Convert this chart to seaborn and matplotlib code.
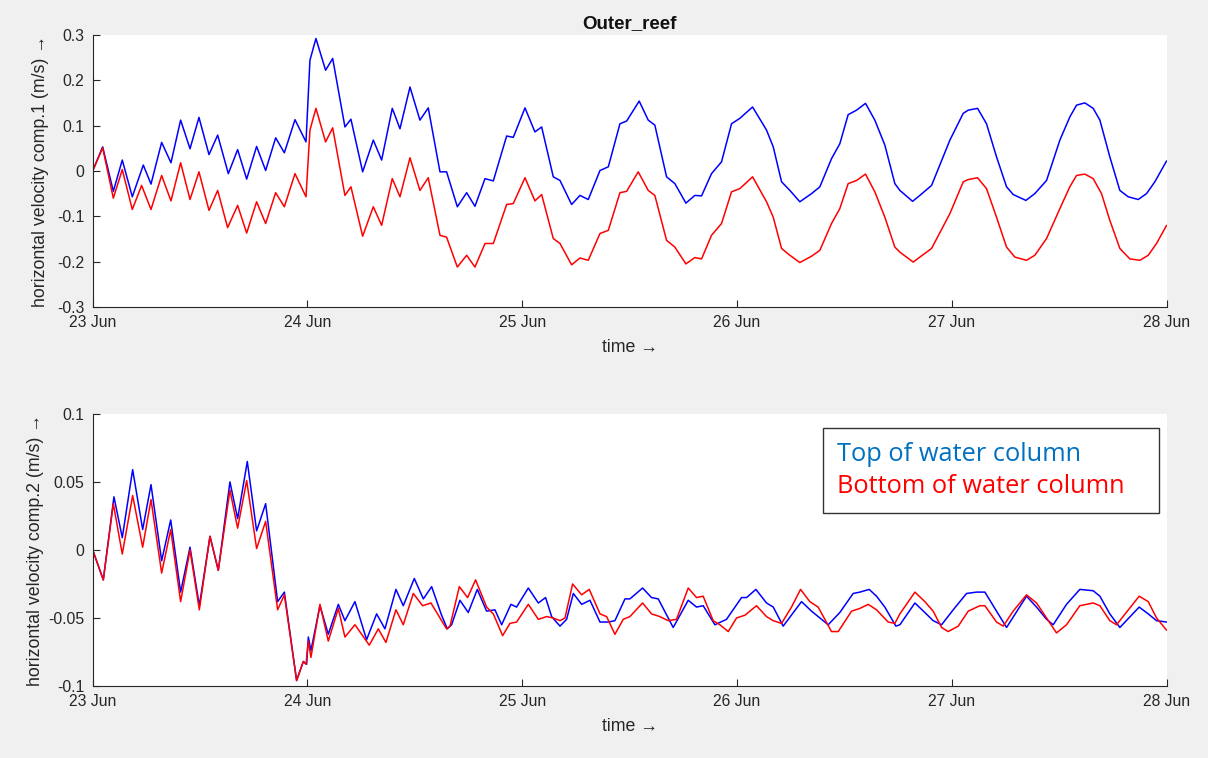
import numpy as np
import pandas as pd
import matplotlib
matplotlib.use("Agg")
import matplotlib.pyplot as plt
import seaborn as sns

# (hours since 23 Jun 00:00, velocity m/s)
comp1_top = [
    (0, 0), (1.12, 0.053), (2.31, -0.045), (3.31, 0.024), (4.43, -0.057), (5.66, 0.013),
    (6.52, -0.029), (7.71, 0.063), (8.75, 0.018), (9.83, 0.112), (10.88, 0.049), (11.88, 0.118),
    (13.00, 0.036), (13.97, 0.079), (15.16, -0.006), (16.20, 0.047), (17.21, -0.018), (18.32, 0.054),
    (19.33, 0.001), (20.45, 0.073), (21.42, 0.040), (22.61, 0.113), (23.84, 0.064), (24.28, 0.244),
    (24.95, 0.292), (26.03, 0.222), (26.82, 0.248), (28.19, 0.097), (28.86, 0.114), (30.17, -0.002),
    (31.36, 0.068), (32.29, 0.024), (33.48, 0.138), (34.34, 0.093), (35.46, 0.185), (36.57, 0.112),
    (37.50, 0.139), (38.81, -0.002), (39.55, -0.002), (40.75, -0.079), (41.79, -0.048), (42.72, -0.078),
    (43.84, -0.017), (44.77, -0.022), (46.26, 0.077), (47.00, 0.074), (48.31, 0.139), (49.42, 0.086),
    (50.17, 0.097), (51.47, -0.013), (52.22, -0.021), (53.52, -0.074), (54.45, -0.054), (55.38, -0.063),
    (56.69, 0.001), (57.62, 0.009), (58.92, 0.104), (59.67, 0.110), (61.07, 0.154), (62.08, 0.112),
    (62.82, 0.101), (64.13, -0.013), (65.06, -0.028), (66.29, -0.071), (67.29, -0.054), (68.04, -0.055),
    (69.15, -0.006), (70.27, 0.020), (71.39, 0.104), (72.32, 0.116), (73.74, 0.141), (75.30, 0.090),
    (76.05, 0.053), (76.98, -0.024), (77.91, -0.043), (79.02, -0.068), (80.33, -0.050), (81.26, -0.035),
    (82.56, 0.027), (83.49, 0.060), (84.42, 0.124), (85.36, 0.134), (86.36, 0.149), (87.40, 0.112),
    (88.52, 0.057), (89.64, -0.028), (90.20, -0.043), (91.62, -0.067), (92.43, -0.054), (93.74, -0.032),
    (95.79, 0.068), (97.28, 0.127), (97.84, 0.134), (98.88, 0.138), (99.88, 0.104), (101.00, 0.031),
    (102.12, -0.035), (102.86, -0.052), (104.28, -0.065), (105.28, -0.050), (106.59, -0.021), (108.08, 0.068),
    (109.19, 0.119), (109.94, 0.145), (110.87, 0.150), (111.80, 0.138), (112.55, 0.112), (113.66, 0.031),
    (114.78, -0.043), (115.71, -0.057), (116.83, -0.063), (117.76, -0.050), (118.69, -0.024), (120.00, 0.022),
]
comp1_bottom = [
    (0, 0), (1.12, 0.051), (2.31, -0.060), (3.31, 0.003), (4.43, -0.085), (5.47, -0.032),
    (6.52, -0.085), (7.71, -0.010), (8.75, -0.066), (9.83, 0.018), (10.88, -0.063), (11.88, -0.002),
    (13.00, -0.087), (13.97, -0.043), (15.08, -0.125), (16.20, -0.076), (17.21, -0.137), (18.32, -0.068),
    (19.33, -0.116), (20.45, -0.048), (21.42, -0.079), (22.61, -0.006), (23.84, -0.057), (24.28, 0.090),
    (24.95, 0.138), (26.03, 0.064), (26.82, 0.095), (28.19, -0.054), (28.86, -0.035), (30.17, -0.144),
    (31.36, -0.079), (32.29, -0.120), (33.48, -0.017), (34.34, -0.057), (35.46, 0.029), (36.57, -0.043),
    (37.50, -0.015), (38.81, -0.142), (39.55, -0.146), (40.75, -0.212), (41.79, -0.186), (42.72, -0.212),
    (43.84, -0.160), (44.77, -0.160), (46.26, -0.074), (47.00, -0.072), (48.31, -0.015), (49.42, -0.066),
    (50.17, -0.052), (51.47, -0.149), (52.22, -0.160), (53.52, -0.207), (54.45, -0.192), (55.38, -0.197),
    (56.69, -0.138), (57.62, -0.131), (58.92, -0.048), (59.67, -0.045), (60.96, -0.002), (62.08, -0.043),
    (62.82, -0.054), (64.13, -0.153), (65.06, -0.168), (66.29, -0.205), (67.29, -0.191), (68.04, -0.194),
    (69.15, -0.142), (70.27, -0.116), (71.39, -0.046), (72.32, -0.039), (73.74, -0.013), (75.30, -0.068),
    (76.05, -0.102), (76.98, -0.171), (77.91, -0.186), (79.02, -0.202), (80.33, -0.188), (81.26, -0.175),
    (82.56, -0.116), (83.49, -0.083), (84.42, -0.028), (85.36, -0.021), (86.36, -0.007), (87.40, -0.046),
    (88.52, -0.102), (89.64, -0.168), (90.20, -0.179), (91.69, -0.201), (92.43, -0.190), (93.74, -0.171),
    (95.79, -0.094), (97.28, -0.024), (97.84, -0.019), (98.88, -0.015), (99.88, -0.039), (101.00, -0.102),
    (102.12, -0.168), (103.05, -0.190), (104.35, -0.197), (105.28, -0.186), (106.59, -0.149), (108.08, -0.083),
    (109.19, -0.035), (109.94, -0.010), (110.87, -0.007), (111.80, -0.017), (112.73, -0.050), (113.66, -0.109),
    (114.78, -0.171), (115.90, -0.194), (117.02, -0.197), (117.95, -0.186), (118.88, -0.160), (120.00, -0.120),
]
comp2_top = [
    (0, 0), (1.19, -0.022), (2.38, 0.039), (3.31, 0.009), (4.47, 0.059), (5.59, 0.015),
    (6.52, 0.048), (7.71, -0.008), (8.72, 0.022), (9.83, -0.031), (10.88, 0.002), (11.92, -0.041),
    (13.11, 0.010), (14.04, -0.015), (15.34, 0.050), (16.20, 0.023), (17.28, 0.065), (18.32, 0.014),
    (19.33, 0.034), (20.67, -0.038), (21.42, -0.031), (22.79, -0.096), (23.54, -0.082), (23.91, -0.084),
    (24.10, -0.064), (24.39, -0.074), (25.40, -0.041), (26.33, -0.062), (27.45, -0.040), (28.19, -0.052),
    (29.31, -0.038), (30.61, -0.066), (31.73, -0.047), (32.66, -0.058), (33.89, -0.029), (34.71, -0.041),
    (35.94, -0.021), (36.95, -0.036), (37.88, -0.027), (38.99, -0.048), (39.63, -0.058), (40.11, -0.055),
    (41.04, -0.037), (41.97, -0.046), (42.98, -0.029), (44.02, -0.045), (44.95, -0.044), (45.70, -0.055),
    (46.74, -0.040), (47.37, -0.042), (48.68, -0.028), (49.80, -0.039), (50.61, -0.035), (51.29, -0.049),
    (52.22, -0.056), (52.96, -0.051), (53.71, -0.032), (54.64, -0.040), (55.57, -0.037), (56.69, -0.053),
    (57.62, -0.053), (58.36, -0.052), (59.48, -0.036), (60.03, -0.036), (61.45, -0.028), (62.45, -0.035),
    (63.20, -0.036), (64.87, -0.057), (66.55, -0.037), (67.48, -0.042), (68.22, -0.041), (69.53, -0.055),
    (70.83, -0.051), (72.51, -0.035), (73.07, -0.035), (74.11, -0.029), (75.30, -0.039), (76.05, -0.042),
    (77.16, -0.056), (79.21, -0.038), (80.33, -0.045), (82.19, -0.055), (83.49, -0.046), (84.98, -0.032),
    (85.73, -0.031), (86.77, -0.029), (87.59, -0.034), (88.52, -0.042), (89.75, -0.056), (90.20, -0.055),
    (91.88, -0.039), (92.99, -0.046), (93.92, -0.052), (94.86, -0.055), (96.16, -0.044), (97.65, -0.032),
    (98.77, -0.031), (99.70, -0.031), (101.00, -0.045), (102.12, -0.057), (104.35, -0.034), (105.47, -0.042),
    (106.59, -0.051), (107.33, -0.055), (108.82, -0.040), (110.31, -0.029), (111.80, -0.030), (112.55, -0.034),
    (113.66, -0.047), (114.78, -0.057), (116.94, -0.042), (117.95, -0.047), (118.88, -0.052), (120.00, -0.053),
]
comp2_bottom = [
    (0, 0), (1.19, -0.022), (2.31, 0.034), (3.31, -0.003), (4.47, 0.040), (5.59, 0.002),
    (6.52, 0.037), (7.71, -0.017), (8.72, 0.015), (9.83, -0.038), (10.88, 0.000), (11.92, -0.044),
    (13.11, 0.010), (14.04, -0.015), (15.34, 0.044), (16.20, 0.016), (17.21, 0.051), (18.32, 0.001),
    (19.33, 0.021), (20.67, -0.044), (21.42, -0.033), (22.79, -0.096), (23.54, -0.082), (23.84, -0.084),
    (24.10, -0.067), (24.39, -0.079), (25.40, -0.040), (26.33, -0.067), (27.45, -0.043), (28.19, -0.064),
    (29.31, -0.055), (30.91, -0.070), (31.92, -0.058), (32.77, -0.068), (33.89, -0.044), (34.71, -0.055),
    (35.83, -0.032), (36.87, -0.041), (37.80, -0.039), (38.81, -0.050), (39.55, -0.058), (39.93, -0.056),
    (40.97, -0.027), (41.90, -0.035), (42.79, -0.022), (44.02, -0.042), (44.77, -0.047), (45.81, -0.063),
    (46.63, -0.054), (47.37, -0.053), (48.68, -0.040), (49.80, -0.051), (50.73, -0.049), (51.47, -0.050),
    (52.22, -0.052), (52.78, -0.050), (53.63, -0.025), (54.64, -0.033), (55.49, -0.029), (56.69, -0.047),
    (57.43, -0.049), (58.36, -0.062), (59.29, -0.051), (60.03, -0.049), (61.45, -0.039), (62.45, -0.047),
    (63.38, -0.049), (64.31, -0.052), (65.24, -0.051), (66.55, -0.028), (67.48, -0.035), (68.22, -0.034),
    (69.34, -0.052), (70.09, -0.055), (71.02, -0.060), (71.95, -0.050), (72.88, -0.048), (74.18, -0.041),
    (75.30, -0.049), (76.05, -0.052), (76.98, -0.054), (78.09, -0.042), (79.10, -0.029), (80.14, -0.038),
    (81.07, -0.042), (82.56, -0.060), (83.31, -0.060), (84.80, -0.045), (85.73, -0.043), (86.66, -0.040),
    (87.59, -0.044), (88.89, -0.053), (89.64, -0.054), (90.20, -0.047), (91.88, -0.031), (92.99, -0.038),
    (93.92, -0.045), (94.86, -0.057), (95.60, -0.060), (96.72, -0.056), (97.84, -0.045), (99.14, -0.041),
    (99.70, -0.041), (101.00, -0.053), (101.75, -0.056), (102.86, -0.045), (104.35, -0.033), (105.47, -0.039),
    (106.59, -0.050), (107.70, -0.061), (108.82, -0.055), (110.31, -0.041), (111.80, -0.039), (112.55, -0.041),
    (113.66, -0.052), (114.41, -0.055), (116.94, -0.034), (117.95, -0.038), (118.88, -0.050), (120.00, -0.059),
]

series_labels = ["Top of water column", "Bottom of water column"]
day_labels = ["23 Jun", "24 Jun", "25 Jun", "26 Jun", "27 Jun", "28 Jun"]
ylabels = ["horizontal velocity comp.1 (m/s) \u2192", "horizontal velocity comp.2 (m/s) \u2192"]
yticks_1 = [-0.3, -0.2, -0.1, 0, 0.1, 0.2, 0.3]
yticks_2 = [-0.1, -0.05, 0, 0.05, 0.1]

start = pd.Timestamp("2016-06-23")


def to_frame(pairs):
    h, v = zip(*pairs)
    return pd.DataFrame({"time": start + pd.to_timedelta(np.array(h), unit="h"), "vel": v})


sns.set_style("ticks")
plt.rcParams["font.family"] = ["Liberation Sans", "DejaVu Sans"]

fig = plt.figure(figsize=(12.08, 7.58), dpi=100, facecolor="#f0f0f0")
ax1 = fig.add_axes([0.0767, 0.595, 0.889, 0.359])
ax2 = fig.add_axes([0.0767, 0.095, 0.889, 0.359])

panels = [
    (ax1, comp1_top, comp1_bottom, ylabels[0], yticks_1, (-0.3, 0.3), 6),
    (ax2, comp2_top, comp2_bottom, ylabels[1], yticks_2, (-0.1, 0.1), 3),
]

for ax, top, bot, ylab, yt, ylim, lpad in panels:
    sns.lineplot(data=to_frame(top), x="time", y="vel", color="#0000ff", lw=1.1,
                 ax=ax, label=series_labels[0], estimator=None, sort=False,
                 solid_joinstyle="round")
    sns.lineplot(data=to_frame(bot), x="time", y="vel", color="#ff0000", lw=1.1,
                 ax=ax, label=series_labels[1], estimator=None, sort=False,
                 solid_joinstyle="round")
    ax.set_facecolor("white")
    ax.set_xlim(start, start + pd.Timedelta(days=5))
    ax.set_ylim(*ylim)
    ax.set_xticks(pd.date_range(start, periods=6, freq="D"))
    ax.set_xticklabels(day_labels)
    ax.set_yticks(yt)
    ax.set_yticklabels([("%g" % t) for t in yt])
    ax.tick_params(direction="in", length=5, width=0.8, colors="#262626", labelsize=11.3, pad=6)
    for s in ["top", "right"]:
        ax.spines[s].set_visible(False)
    for s in ["left", "bottom"]:
        ax.spines[s].set_color("#262626")
        ax.spines[s].set_linewidth(0.8)
    ax.set_xlabel("time \u2192", fontsize=12.8, color="#262626", labelpad=6)
    ax.set_ylabel(ylab, fontsize=12.8, color="#262626", labelpad=lpad)

ax1.get_legend().remove()
ax1.set_title("Outer_reef", fontsize=13.5, fontweight="bold", pad=5, color="#111111")

leg = ax2.legend(loc="upper left", bbox_to_anchor=(0.680, 0.632, 0.313, 0.317), mode="expand",
                 frameon=True, fancybox=False,
                 handlelength=0, handletextpad=0, borderpad=0.55, borderaxespad=0,
                 labelspacing=0.3, labelcolor=["#0070c0", "#ff0000"],
                 prop={"family": ["Open Sans", "DejaVu Sans"], "size": 18.3})
leg.get_frame().set_edgecolor("black")
leg.get_frame().set_linewidth(1.0)
for h in leg.legend_handles:
    h.set_visible(False)

fig.savefig("out.png", dpi=100, facecolor=fig.get_facecolor())
